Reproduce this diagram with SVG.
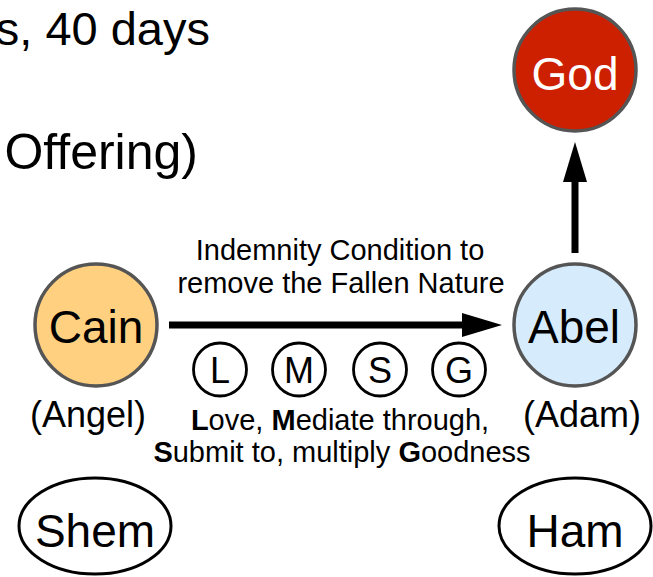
<svg xmlns="http://www.w3.org/2000/svg" width="653" height="577" viewBox="0 0 653 577">
<style>
  text { font-family: "Liberation Sans", Arial, sans-serif; fill: #000; }
  .node { stroke: #555555; stroke-width: 3.5; }
  .big { font-size: 46px; text-anchor: middle; }
  .sub { font-size: 36px; text-anchor: middle; }
  .lbl { font-size: 29px; text-anchor: middle; }
  .ring { fill: #ffffff; stroke: #000; stroke-width: 2.8; }
  .ringtxt { font-size: 36px; text-anchor: middle; }
  .oval { fill: #ffffff; stroke: #000; stroke-width: 3; }
  .edge { stroke: #000; stroke-width: 7; fill: none; }
  .b { font-weight: bold; }
</style>
<rect width="653" height="577" fill="#ffffff"/>

<g id="fragments">
  <text x="210" y="45" font-size="47" text-anchor="end">s, 40 days</text>
  <text x="198" y="169" font-size="50" text-anchor="end">Offering)</text>
</g>

<g id="connectors">
  <line class="edge" x1="169" y1="325" x2="464" y2="325"/>
  <polygon points="462,313 502,325 462,337" fill="#000"/>
  <line class="edge" x1="575" y1="253" x2="575" y2="180"/>
  <polygon points="563,182 575,142 587,182" fill="#000"/>
  <g id="edge-label">
    <text class="lbl" x="340" y="260">Indemnity Condition to</text>
    <text class="lbl" x="341" y="293">remove the Fallen Nature</text>
  </g>
</g>

<g id="god">
  <circle class="node" cx="575" cy="70" r="61" fill="#cc2000"/>
  <text class="big" x="575" y="90" style="fill:#ffffff">God</text>
</g>

<g id="cain">
  <circle class="node" cx="96" cy="325" r="61" fill="#ffd080"/>
  <text class="big" x="96" y="343">Cain</text>
  <text class="sub" x="88" y="427">(Angel)</text>
</g>

<g id="abel">
  <circle class="node" cx="575" cy="325" r="61" fill="#d6ebfb"/>
  <text class="big" x="574" y="343">Abel</text>
  <text class="sub" x="582" y="427">(Adam)</text>
</g>

<g id="lmsg">
  <g id="ring-L"><circle class="ring" cx="220" cy="369.5" r="26.5"/><text class="ringtxt" x="220" y="383">L</text></g>
  <g id="ring-M"><circle class="ring" cx="299" cy="369.5" r="26.5"/><text class="ringtxt" x="299" y="383">M</text></g>
  <g id="ring-S"><circle class="ring" cx="380" cy="369.5" r="26.5"/><text class="ringtxt" x="380" y="383">S</text></g>
  <g id="ring-G"><circle class="ring" cx="459" cy="369.5" r="26.5"/><text class="ringtxt" x="459" y="383">G</text></g>
  <text class="lbl" x="340" y="430"><tspan class="b">L</tspan>ove, <tspan class="b">M</tspan>ediate through,</text>
  <text class="lbl" x="342" y="462"><tspan class="b">S</tspan>ubmit to, multiply <tspan class="b">G</tspan>oodness</text>
</g>

<g id="shem">
  <ellipse class="oval" cx="95" cy="526" rx="76" ry="48"/>
  <text class="big" x="95" y="547">Shem</text>
</g>

<g id="ham">
  <ellipse class="oval" cx="575" cy="526" rx="76" ry="48"/>
  <text class="big" x="575" y="547">Ham</text>
</g>
</svg>
